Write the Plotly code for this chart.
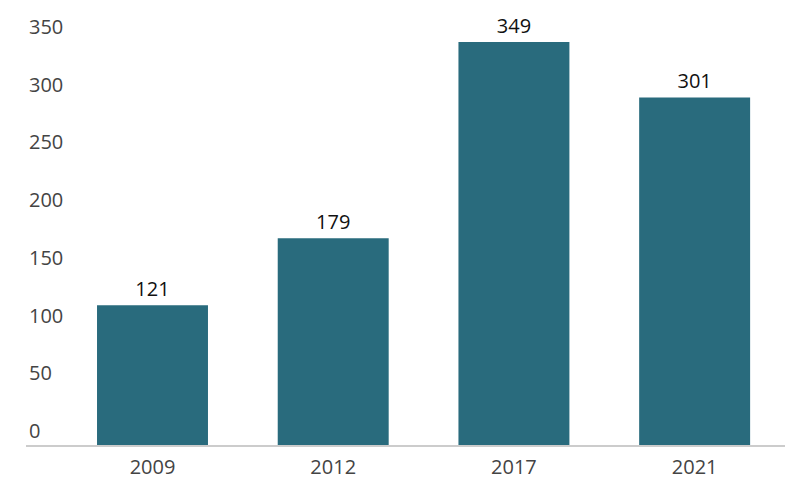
import plotly.graph_objects as go

years = ["2009", "2012", "2017", "2021"]
values = [121, 179, 349, 301]
y_ticks = [0, 50, 100, 150, 200, 250, 300, 350]

BAR_COLOR = "#296b7d"
FONT = "Open Sans"

fig = go.Figure(
    go.Bar(
        x=years,
        y=values,
        marker=dict(color=BAR_COLOR, line=dict(width=0)),
        width=0.614,
        text=values,
        textposition="outside",
        textfont=dict(family=FONT, size=20, color="#111111"),
        cliponaxis=False,
    )
)

# page body has an 8px default margin, so offsets are shifted by that
fig.update_layout(
    width=800,
    height=487,
    margin=dict(l=18, r=23, t=4, b=50),
    paper_bgcolor="white",
    plot_bgcolor="white",
    showlegend=False,
    font=dict(family=FONT, size=20, color="#444444"),
    xaxis=dict(
        type="category",
        range=[-0.7, 3.5],
        showline=True,
        linecolor="#cccccc",
        linewidth=1.5,
        showgrid=False,
        ticks="",
        ticklabelstandoff=3,
        tickfont=dict(size=20, color="#444444"),
    ),
    yaxis=dict(
        range=[0, 375],
        tickvals=y_ticks,
        showgrid=False,
        zeroline=False,
        showline=False,
        ticks="",
        ticklabelposition="inside top",
        tickfont=dict(size=20, color="#444444"),
    ),
)

fig.write_html("out.html")
